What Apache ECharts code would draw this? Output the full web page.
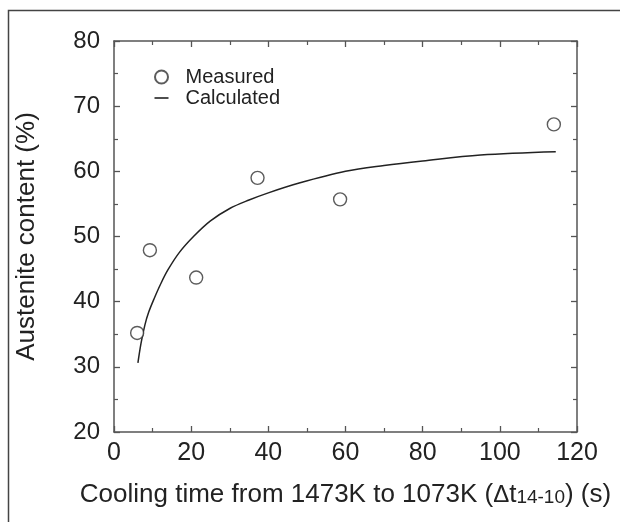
<!DOCTYPE html>
<html>
<head>
<meta charset="utf-8">
<script src="https://cdn.jsdelivr.net/npm/echarts@6/dist/echarts.min.js"></script>
<style>
html,body{margin:0;padding:0;background:#fff;}
#chart{width:620px;height:522px;}
</style>
</head>
<body>
<div id="chart"></div>
<script>
// Measured austenite content
var measuredX = [6.0, 9.3, 21.3, 37.2, 58.6, 114.0];
var measuredY = [35.2, 47.9, 43.7, 59.0, 55.7, 67.2];
// Calculated curve
var calcX = [6.2, 7.0, 8.0, 9.0, 10.5, 12.0, 14.0, 17.0, 20.6, 25.0, 30.0, 35.0, 40.0, 48.0, 60.0, 70.0, 80.0, 95.0, 114.5];
var calcY = [30.6, 33.6, 36.4, 38.4, 40.6, 42.6, 44.9, 47.6, 50.0, 52.4, 54.3, 55.6, 56.7, 58.2, 60.0, 60.9, 61.6, 62.5, 63.0];
var xTicks = [0, 20, 40, 60, 80, 100, 120];
var yTicks = [20, 30, 40, 50, 60, 70, 80];

function zip(a, b) { return a.map(function (v, i) { return [v, b[i]]; }); }

var FONT = '"Liberation Sans", Arial, sans-serif';
var AX = '#555';
var TXT = '#222';

var chart = echarts.init(document.getElementById('chart'), null, {renderer: 'canvas'});

function xAx(pos, labels) {
  return {
    type: 'value', position: pos, min: xTicks[0], max: xTicks[xTicks.length - 1], interval: 20,
    axisLine: {show: true, onZero: false, lineStyle: {color: AX, width: 1.5}},
    axisTick: {show: true, inside: true, length: 6, lineStyle: {color: AX, width: 1.3}},
    minorTick: {show: true, splitNumber: 2, length: 4, lineStyle: {color: AX, width: 1.2}},
    splitLine: {show: false},
    axisLabel: {show: labels, color: TXT, fontSize: 25, fontFamily: FONT, margin: 9},
    name: labels ? 'Cooling time from 1473K to 1073K ({d|Δ}t{s|14-10}) (s)' : '',
    nameLocation: 'middle', nameGap: 50,
    nameTextStyle: {color: TXT, fontSize: 26, fontFamily: FONT,
      rich: {d: {fontSize: 24, fontFamily: FONT, color: TXT},
             s: {fontSize: 19, fontFamily: FONT, color: TXT, padding: [6, 0, 0, 0]}}}
  };
}
function yAx(pos, labels) {
  return {
    type: 'value', position: pos, min: yTicks[0], max: yTicks[yTicks.length - 1], interval: 10,
    axisLine: {show: true, onZero: false, lineStyle: {color: AX, width: 1.5}},
    axisTick: {show: true, inside: true, length: 6, lineStyle: {color: AX, width: 1.3}},
    minorTick: {show: true, splitNumber: 2, length: 4, lineStyle: {color: AX, width: 1.2}},
    splitLine: {show: false},
    axisLabel: {show: labels, color: TXT, fontSize: 24, fontFamily: FONT, margin: 14},
    name: labels ? 'Austenite content (%)' : '',
    nameLocation: 'middle', nameGap: 74,
    nameTextStyle: {color: TXT, fontSize: 26, fontFamily: FONT}
  };
}

chart.setOption({
  animation: false,
  backgroundColor: '#fff',
  grid: {left: 114, right: 43, top: 41, bottom: 90},
  xAxis: [xAx('bottom', true), xAx('top', false)],
  yAxis: [yAx('left', true), yAx('right', false)],
  legend: {
    orient: 'vertical', left: 149, top: 62, itemGap: 1, itemWidth: 14, itemHeight: 13,
    textStyle: {color: TXT, fontSize: 20, fontFamily: FONT, padding: [0, 0, 0, 12]},
    data: [
      {name: 'Measured', icon: 'circle'},
      {name: 'Calculated', icon: 'path://M0,0 L14,0 L14,1.6 L0,1.6 Z'}
    ]
  },
  graphic: [{
    type: 'rect', left: 6, top: 8, silent: true,
    shape: {width: 640, height: 540},
    style: {fill: null, stroke: '#444', lineWidth: 1.5}
  }],
  series: [
    {
      name: 'Measured', type: 'scatter', symbol: 'circle', symbolSize: 13,
      itemStyle: {color: '#fff', borderColor: '#333', borderWidth: 1.4},
      data: zip(measuredX, measuredY), z: 3
    },
    {
      name: 'Calculated', type: 'line', smooth: 0.35, symbol: 'none', showSymbol: false,
      itemStyle: {color: '#222'},
      lineStyle: {color: '#222', width: 1.5},
      data: zip(calcX, calcY), z: 2
    }
  ]
});
</script>
</body>
</html>
